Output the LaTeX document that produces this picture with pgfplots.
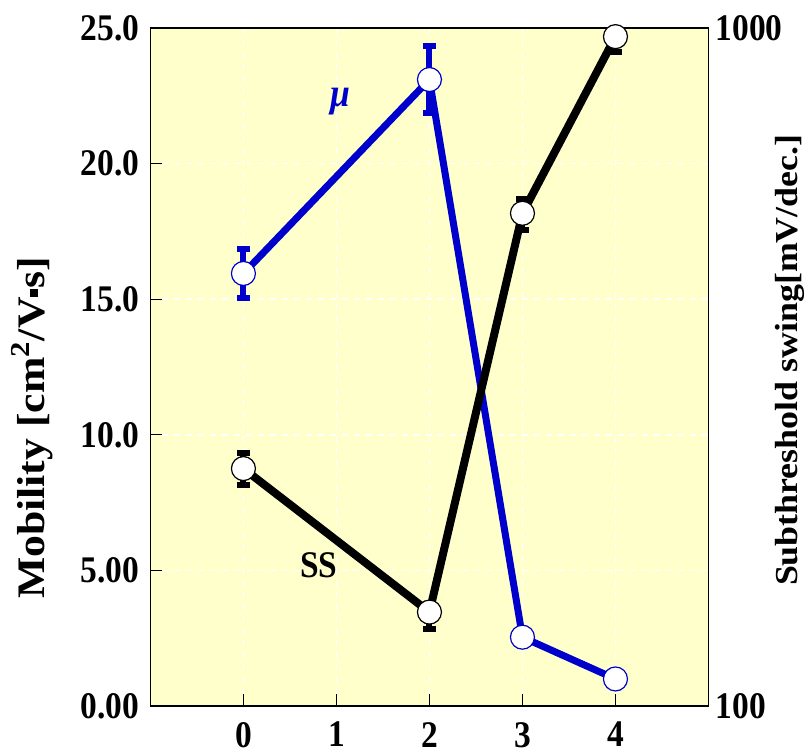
\documentclass[border=0pt]{standalone}
\usepackage{fontspec}
\setmainfont{Liberation Serif}[FakeStretch=0.89]
\newfontfamily\rotfont{Liberation Serif}[FakeStretch=1.12]
\usepackage{pgfplots}
\pgfplotsset{compat=1.18}

\definecolor{bgyellow}{RGB}{255,255,204}
\definecolor{mublue}{RGB}{0,0,204}

\pgfplotstableread{
x   y      err
0   15.95  0.90
2   23.10  1.24
3   2.54   0.0
4   1.00   0.0
}\mobility

\pgfplotstableread{
x   y     ep   em
0   224   12   12
2   137.6 4    7.6
3   533   27   29
4   971   25   48
}\swing

\begin{document}
\begin{tikzpicture}
\pgfplotsset{
  every axis/.append style={
    width=279pt, height=339pt, scale only axis,
    xmin=-1, xmax=5,
    font=\bfseries\fontsize{18.8}{22}\selectfont,
    tick label style={font=\bfseries\fontsize{18.8}{22}\selectfont},
  },
}
\begin{axis}[
  name=ax1,
  ymin=0, ymax=25,
  axis background/.style={fill=bgyellow},
  xtick={0,1,2,3,4}, xticklabels={0,1,2,3,4},
  ytick={0,5,10,15,20,25},
  yticklabels={0.00,5.00,10.0,15.0,20.0,25.0},
  xtick pos=bottom, ytick pos=left,
  tick align=inside,
  major tick length=6pt,
  tick style={black, line width=0.5pt},
  yticklabel style={xshift=-2pt},
  xticklabel style={yshift=-4.5pt},
  grid=major,
  grid style={white, dashed, line width=0.8pt},
  axis line style={line width=0.7pt},
  every axis y label/.style={at={(axis description cs:-0.2115,0.41)}, rotate=90, anchor=center,
    font=\rotfont\bfseries\fontsize{19.5}{22}\selectfont},
  ylabel={Mobility [cm\textsuperscript{2}/V\raisebox{0.35ex}{\rule{0.22em}{0.22em}}s]},
  clip=false,
]
\addplot[mublue, line width=3.5pt, mark=*, mark size=6pt,
  mark options={fill=white, draw=mublue, line width=0.6pt},
  error bars/.cd, y dir=both, y explicit,
  error bar style={line width=3pt, mublue},
  error mark options={mublue, line width=3pt, mark size=3.2pt, rotate=90}]
  table[x=x, y=y, y error=err] {\mobility};
\node[mublue, font=\bfseries\itshape\fontsize{20}{24}\selectfont] at (axis cs:1.04,22.3) {μ};
\node[black, font=\bfseries\fontsize{18.8}{22}\selectfont] at (axis cs:0.81,5.2) {SS};
\end{axis}

\begin{axis}[
  ymode=log, ymin=100, ymax=1000,
  axis x line=none,
  axis y line*=right,
  ytick={100,1000}, yticklabels={100,1000},
  minor ytick={},
  tick style={draw=none},
  axis line style={line width=0.7pt},
  every axis y label/.style={at={(axis description cs:1.146,0.51)}, rotate=90, anchor=center,
    font=\rotfont\bfseries\fontsize{16}{20}\selectfont},
  ylabel={Subthreshold swing[mV/dec.]},
  clip=false,
]
\addplot[black, line width=4pt, mark=*, mark size=6pt,
  mark options={fill=white, draw=black, line width=0.6pt},
  error bars/.cd, y dir=both, y explicit,
  error bar style={line width=3pt, black},
  error mark options={black, line width=3pt, mark size=3.2pt, rotate=90}]
  table[x=x, y=y, y error plus=ep, y error minus=em] {\swing};
\end{axis}
\pgfresetboundingbox
\path[use as bounding box] ([xshift=-75.2pt,yshift=-24.5pt]ax1.south west)
  rectangle ([xshift=50.25pt,yshift=14pt]ax1.north east);
\end{tikzpicture}
\end{document}
